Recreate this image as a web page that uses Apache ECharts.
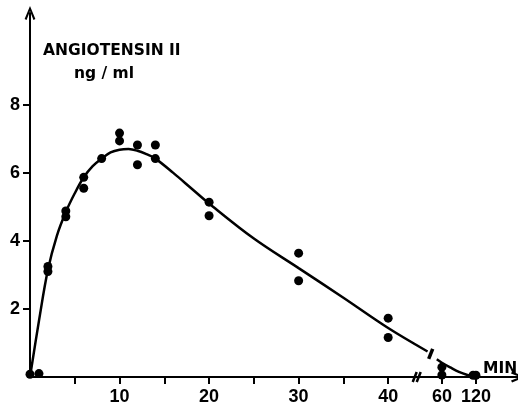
<!DOCTYPE html>
<html>
<head>
<meta charset="utf-8">
<script src="https://cdn.jsdelivr.net/npm/echarts@6/dist/echarts.min.js"></script>
<style>
html, body { margin: 0; padding: 0; background: #fff; }
#main { width: 518px; height: 406px; }
</style>
</head>
<body>
<div id="main"></div>
<script>
// measured points (minutes, ng/ml)
var dotMin = [0, 1, 2, 2, 4, 4, 6, 6, 8, 10, 10, 12, 12, 14, 14, 20, 20, 30, 30, 40, 40, 60, 60, 115, 120];
var dotVal = [0.08, 0.1, 3.25, 3.1, 4.88, 4.71, 5.87, 5.55, 6.42, 7.17, 6.94, 6.82, 6.24, 6.82, 6.42, 5.14, 4.74, 3.64, 2.83, 1.73, 1.16, 0.29, 0.06, 0.05, 0.05];

// fitted curve, before the axis break
var curveMin1 = [0, 1, 2, 3, 4, 5, 6, 7, 8, 9, 10, 11, 12, 13, 14, 16, 18, 20, 25, 30, 35, 40, 44.4];
var curveVal1 = [0, 1.65, 3.15, 4.15, 4.85, 5.4, 5.87, 6.2, 6.42, 6.6, 6.68, 6.7, 6.65, 6.55, 6.42, 6.0, 5.55, 5.1, 4.07, 3.2, 2.33, 1.44, 0.75];
// ...and after it
var curveMin2 = [51, 60, 75, 90, 105, 120];
var curveVal2 = [0.52, 0.42, 0.28, 0.15, 0.06, 0];

var xTickMin = [5, 10, 15, 20, 25, 30, 35, 40, 60, 120];
var xLabelMin = [10, 20, 30, 40, 60, 120];
var yTicks = [2, 4, 6, 8];

// broken time axis: linear up to 45 min, compressed after
var xpos = function (t) {
    if (t <= 45) return t;
    return 46 + (t - 60) * 3.8 / 60;
};

var pairs = function (xs, ys) {
    var out = [];
    xs.forEach(function (x, i) {
        out.push([xpos(x), ys[i]]);
    });
    return out;
};

var labelPos = xLabelMin.map(xpos);

var myCharts = echarts.init(document.getElementById('main'));

var chevron = 'path://M5,0 L10,12 L8.2,13 L5,4.6 L1.8,13 L0,12 Z';

var option = {
    animation: false,
    backgroundColor: '#fff',
    grid: { left: 30, right: 0, top: 13, bottom: 23 },
    xAxis: {
        type: 'value',
        min: 0,
        max: 54.5,
        splitLine: { show: false },
        axisLine: {
            lineStyle: { color: '#000', width: 2 },
            symbol: ['none', chevron],
            symbolSize: [11, 14]
        },
        axisTick: {
            customValues: xTickMin.map(xpos),
            length: 7,
            lineStyle: { color: '#000', width: 2 }
        },
        axisLabel: {
            customValues: labelPos,
            margin: 11,
            color: '#000',
            fontFamily: 'Liberation Sans',
            fontWeight: 'bold',
            fontSize: 18,
            formatter: function (v) {
                for (var i = 0; i < labelPos.length; i++) {
                    if (Math.abs(labelPos[i] - v) < 0.01) return String(xLabelMin[i]);
                }
                return '';
            }
        }
    },
    yAxis: {
        type: 'value',
        min: 0,
        max: 10.7,
        splitLine: { show: false },
        axisLine: {
            lineStyle: { color: '#000', width: 2 },
            symbol: ['none', chevron],
            symbolSize: [11, 14]
        },
        axisTick: {
            customValues: yTicks,
            length: 7,
            lineStyle: { color: '#000', width: 2 }
        },
        axisLabel: {
            customValues: yTicks,
            margin: 10,
            color: '#000',
            fontFamily: 'Liberation Sans',
            fontWeight: 'bold',
            fontSize: 18
        }
    },
    series: [
        {
            type: 'line',
            smooth: 0.35,
            showSymbol: false,
            lineStyle: { color: '#000', width: 2.5 },
            data: pairs(curveMin1, curveVal1)
        },
        {
            type: 'line',
            smooth: 0.35,
            showSymbol: false,
            lineStyle: { color: '#000', width: 2.5 },
            data: pairs(curveMin2, curveVal2)
        },
        {
            type: 'scatter',
            symbolSize: 9,
            itemStyle: { color: '#000', opacity: 1 },
            data: pairs(dotMin, dotVal)
        }
    ]
};

myCharts.setOption(option);

// break marks, placed through the axis scale
var p = function (x, y) {
    return myCharts.convertToPixel({ gridIndex: 0 }, [x, y]);
};
var axisBreak = p(43.3, 0);
var curveBreak = p(44.75, 0.68);

myCharts.setOption({
    graphic: [
        {
            type: 'text', left: 43, top: 43,
            style: { text: 'ANGIOTENSIN II', fill: '#000', font: 'bold 15.5px "DejaVu Sans"' }
        },
        {
            type: 'text', left: 74, top: 66,
            style: { text: 'ng / ml', fill: '#000', font: 'bold 15.5px "DejaVu Sans"' }
        },
        {
            type: 'text', left: 483, top: 361,
            style: { text: 'MIN', fill: '#000', font: 'bold 15.5px "DejaVu Sans"' }
        },
        {
            type: 'rect',
            shape: { x: axisBreak[0] - 3, y: axisBreak[1] - 2, width: 5, height: 4 },
            style: { fill: '#fff' }
        },
        {
            type: 'line',
            shape: { x1: axisBreak[0] - 5, y1: axisBreak[1] + 5, x2: axisBreak[0] - 1, y2: axisBreak[1] - 5 },
            style: { stroke: '#000', lineWidth: 2.5 }
        },
        {
            type: 'line',
            shape: { x1: axisBreak[0] - 1, y1: axisBreak[1] + 5, x2: axisBreak[0] + 3, y2: axisBreak[1] - 5 },
            style: { stroke: '#000', lineWidth: 2.5 }
        },
        {
            type: 'line',
            shape: { x1: curveBreak[0] - 2, y1: curveBreak[1] + 5, x2: curveBreak[0] + 2, y2: curveBreak[1] - 5 },
            style: { stroke: '#000', lineWidth: 3.5 }
        }
    ]
});
</script>
</body>
</html>
